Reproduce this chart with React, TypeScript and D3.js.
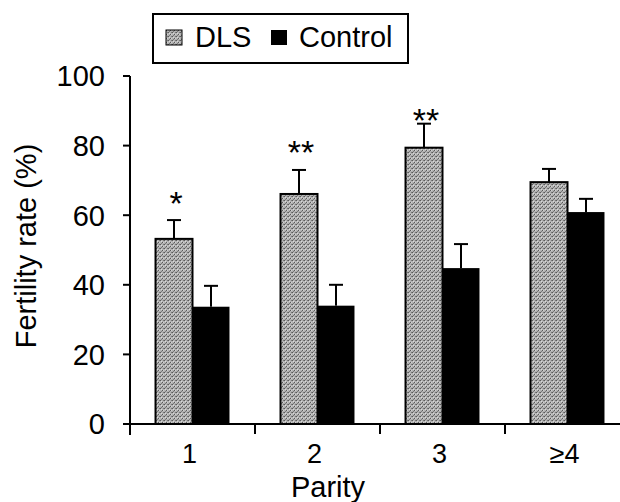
import React from "react"
import * as d3 from "d3"

// data
const categories = ["1", "2", "3", "≥4"]
const dlsValues = [53.2, 66.1, 79.4, 69.5]
const dlsErrors = [5.4, 6.9, 6.9, 3.8]
const controlValues = [33.7, 34, 44.8, 60.9]
const controlErrors = [6, 6, 6.9, 3.8]
const significance = ["*", "**", "**", ""]
const significanceY = [65.8, 80.5, 89.7, 0]
const yTicks = [0, 20, 40, 60, 80, 100]
const seriesNames = ["DLS", "Control"]

const W = 620
const H = 502
const font = "'Liberation Sans', Arial, Helvetica, sans-serif"

export default function App() {
  const y = d3.scaleLinear().domain([0, 100]).range([424, 76])
  const x = d3.scaleBand<string>().domain(categories).range([130, 630])
  const inner = d3
    .scaleBand<string>()
    .domain(seriesNames)
    .range([0, x.bandwidth()])
    .paddingOuter(0.69)

  const bw = inner.bandwidth()
  const boundaries = categories.map((c) => x(c) as number)

  const errBar = (cx: number, v: number, e: number, key: string) => (
    <g key={key} stroke="#000" strokeWidth={2}>
      <line x1={cx} x2={cx} y1={y(v)} y2={y(v + e)} />
      <line x1={cx - 7} x2={cx + 7} y1={y(v + e)} y2={y(v + e)} />
    </g>
  )

  return (
    <svg
      width={W}
      height={H}
      style={{ position: "absolute", left: 0, top: 0, background: "#fff" }}
      fontFamily={font}
    >
      <defs>
        <pattern id="dots" width={4} height={4} patternUnits="userSpaceOnUse">
          <rect width={4} height={4} fill="#b2b2b2" />
          <rect x={0} y={0} width={1} height={1} fill="#5a5a5a" />
          <rect x={2} y={2} width={1} height={1} fill="#5a5a5a" />
          <rect x={3} y={0} width={1} height={1} fill="#7a7a7a" />
          <rect x={1} y={3} width={1} height={1} fill="#7a7a7a" />
          <rect x={1} y={1} width={1} height={1} fill="#dadada" />
          <rect x={3} y={2} width={1} height={1} fill="#d0d0d0" />
        </pattern>
      </defs>

      {/* bars */}
      {categories.map((c, i) => {
        const x0 = x(c) as number
        const xd = x0 + (inner("DLS") as number)
        const xc = x0 + (inner("Control") as number)
        return (
          <g key={c}>
            <rect
              x={xd}
              y={y(dlsValues[i])}
              width={bw}
              height={y(0) - y(dlsValues[i])}
              fill="url(#dots)"
              stroke="#000"
              strokeWidth={2}
            />
            <rect
              x={xc}
              y={y(controlValues[i])}
              width={bw}
              height={y(0) - y(controlValues[i])}
              fill="#000"
            />
            {errBar(xd + bw / 2, dlsValues[i], dlsErrors[i], "d" + c)}
            {errBar(xc + bw / 2, controlValues[i], controlErrors[i], "c" + c)}
            {significance[i] && (
              <text
                x={xd + bw / 2 + 2}
                y={y(significanceY[i]) + 20}
                textAnchor="middle"
                fontSize={34}
              >
                {significance[i]}
              </text>
            )}
          </g>
        )
      })}

      {/* y axis */}
      <line x1={130} x2={130} y1={y(100)} y2={435} stroke="#000" strokeWidth={2} />
      {yTicks.map((t) => (
        <g key={t}>
          <line x1={123} x2={130} y1={y(t)} y2={y(t)} stroke="#000" strokeWidth={2} />
          <text x={105} y={y(t)} dy="0.36em" textAnchor="end" fontSize={29}>
            {t}
          </text>
        </g>
      ))}

      {/* x axis */}
      <line x1={123} x2={W} y1={y(0)} y2={y(0)} stroke="#000" strokeWidth={2} />
      {boundaries.map((b) => (
        <line key={b} x1={b} x2={b} y1={y(0)} y2={434} stroke="#000" strokeWidth={2} />
      ))}
      {categories.map((c) => (
        <text
          key={c}
          x={(x(c) as number) + x.bandwidth() / 2 - 3}
          y={463}
          textAnchor="middle"
          fontSize={27}
        >
          {c}
        </text>
      ))}

      <text x={328} y={497} textAnchor="middle" fontSize={29}>
        Parity
      </text>
      <text
        transform={`translate(36,${(y(0) + y(100)) / 2 - 4}) rotate(-90)`}
        textAnchor="middle"
        fontSize={29}
      >
        Fertility rate (%)
      </text>

      {/* legend */}
      <rect x={153} y={14} width={255} height={49} fill="#fff" stroke="#000" strokeWidth={2} />
      <rect x={166} y={30} width={16} height={15} fill="url(#dots)" stroke="#000" strokeWidth={1} />
      <text x={195} y={47} fontSize={29}>
        DLS
      </text>
      <rect x={271} y={30} width={16} height={15} fill="#000" />
      <text x={299} y={47} fontSize={29}>
        Control
      </text>
    </svg>
  )
}
